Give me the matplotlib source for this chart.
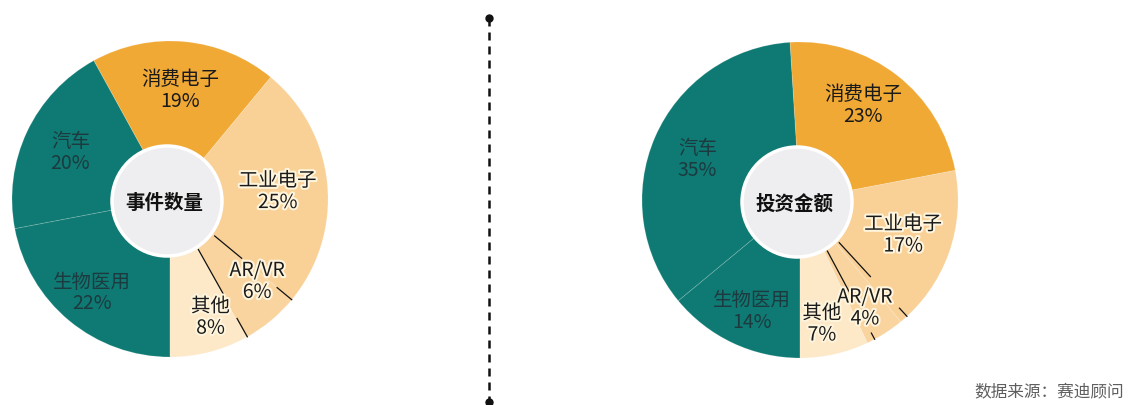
import numpy as np
import matplotlib.pyplot as plt
import matplotlib.patheffects as pe
from matplotlib.patches import Circle

plt.rcParams['font.family'] = ['Noto Sans CJK SC', 'DejaVu Sans']

# data
categories = ['生物医用', '汽车', '消费电子', '工业电子', 'AR/VR', '其他']
event_share = [22, 20, 19, 25, 6, 8]
invest_share = [14, 35, 23, 17, 4, 7]
center_titles = ['事件数量', '投资金额']
source_note = '数据来源：赛迪顾问'

# styles / layout (pixel units, y measured from bottom)
colors = ['#0E7A73', '#0E7A73', '#F0A935', '#F9D096', '#FAD49F', '#FDE8C8']
centers = [(170, 206), (800, 205)]
R_OUT = 158
R_IN = 55
label_r = [[122, 110, 109, 108, 120, 125], [121, 110, 114, 109, 126, 126]]
label_nudge = [[0, 0, 0, -1.5, 7, 4.5], [2, 2, 4, 1, -1.4, -2.6]]
line_nudge = [[0, 0.5], [3, 3]]
line_gaps = [[(93, 139), (111, 137)], [(104, 147), (113, 151)]]

fig = plt.figure(figsize=(11.28, 4.05), dpi=100)
ax = fig.add_axes([0, 0, 1, 1])

for k, vals in enumerate([event_share, invest_share]):
    cx, cy = centers[k]
    wedges, _ = ax.pie(vals, colors=colors, startangle=-90, counterclock=False,
                       radius=R_OUT, center=(cx, cy),
                       wedgeprops=dict(linewidth=0.7, edgecolor=(1, 1, 1, 0.15)))

    # separator lines around AR/VR slice
    for j, ang in enumerate([wedges[4].theta2, wedges[4].theta1]):
        a = np.deg2rad(ang + line_nudge[k][j])
        g0, g1 = line_gaps[k][j]
        for r0, r1 in [(R_IN + 3, g0), (g1, R_OUT)]:
            ax.plot([cx + r0 * np.cos(a), cx + r1 * np.cos(a)],
                    [cy + r0 * np.sin(a), cy + r1 * np.sin(a)],
                    color='#111111', lw=0.9, zorder=4)

    # slice labels
    for i, w in enumerate(wedges):
        mid = np.deg2rad((w.theta1 + w.theta2) / 2 + label_nudge[k][i])
        r = label_r[k][i]
        txt = ax.text(cx + r * np.cos(mid), cy + r * np.sin(mid),
                      f'{categories[i]}\n{vals[i]}%', ha='center', va='center',
                      fontsize=14, linespacing=1.05,
                      color='#1d3a3f' if i < 2 else '#1a1a1a', zorder=5)
        if i >= 3:
            txt.set_path_effects([pe.withStroke(linewidth=3, foreground='#fff4dc')])

    ax.add_patch(Circle((cx - 3, cy - 2), R_IN, facecolor='#EEEEF0',
                        edgecolor='white', linewidth=2.5, zorder=3))
    ax.text(cx - 6, cy - 4, center_titles[k], ha='center', va='center',
            fontsize=14, fontweight='bold', color='#111111', zorder=5)

# dashed divider
ax.plot([489, 489], [387, 3], linestyle=(0, (3.2, 2.4)), lw=1.8, color='#111111')
ax.plot([489, 489], [387, 3], 'o', ms=5, color='#111111', ls='none')

ax.text(1124, 13, source_note, ha='right', va='center', fontsize=12,
        color='#5e5e5e', fontweight='medium')

ax.set_xlim(0, 1128)
ax.set_ylim(0, 405)
ax.set_aspect('equal')
ax.axis('off')

plt.savefig('out.png', dpi=100)
